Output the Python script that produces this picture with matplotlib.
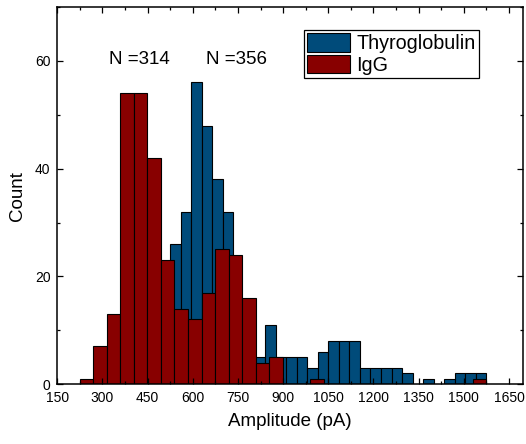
import matplotlib.pyplot as plt
from matplotlib.ticker import MultipleLocator

plt.rcParams['font.family'] = ['Liberation Sans', 'DejaVu Sans']

# Thyroglobulin histogram, bin width 35
thyro_left = [490, 525, 560, 595, 630, 665, 700, 735, 770, 805, 840, 875, 910, 945,
              980, 1015, 1050, 1085, 1120, 1155, 1190, 1225, 1260, 1295, 1330,
              1365, 1400, 1435, 1470, 1505, 1540]
thyro_count = [12, 26, 32, 56, 48, 38, 32, 14, 12, 5, 11, 5, 5, 5,
               3, 6, 8, 8, 8, 3, 3, 3, 3, 2, 0,
               1, 0, 1, 2, 2, 2]
thyro_width = 35

# IgG histogram, bin width 45
igg_left = [224, 269, 314, 359, 404, 449, 494, 539, 584, 629, 674, 719, 764, 809,
            854, 899, 944, 989, 1529]
igg_count = [1, 7, 13, 54, 54, 42, 23, 14, 12, 17, 25, 24, 16, 4,
             5, 0, 0, 1, 1]
igg_width = 45

blue = '#004b7a'
red = '#880000'

fig = plt.figure(figsize=(5.26, 4.44), dpi=100)
ax = fig.add_axes([0.109, 0.135, 0.885, 0.849])

tl = [x for x, c in zip(thyro_left, thyro_count) if c > 0]
tc = [c for c in thyro_count if c > 0]
il = [x for x, c in zip(igg_left, igg_count) if c > 0]
ic = [c for c in igg_count if c > 0]

ax.bar(tl, tc, width=thyro_width, align='edge', color=blue, edgecolor='black',
       linewidth=0.8, label='Thyroglobulin')
ax.bar(il, ic, width=igg_width, align='edge', color=red, edgecolor='black',
       linewidth=0.8, label='IgG')

ax.set_xlim(150, 1696)
ax.set_ylim(0, 70)
ax.xaxis.set_major_locator(MultipleLocator(150))
ax.xaxis.set_minor_locator(MultipleLocator(75))
ax.yaxis.set_major_locator(MultipleLocator(20))
ax.yaxis.set_minor_locator(MultipleLocator(10))
ax.tick_params(which='both', direction='in', top=True, right=True, labelsize=10, pad=5)
ax.tick_params(which='major', length=4.5, width=0.9)
ax.tick_params(which='minor', length=2.3, width=0.9)
for s in ax.spines.values():
    s.set_linewidth(1.1)

ax.set_xlabel('Amplitude (pA)', fontsize=13.5, labelpad=6)
ax.set_ylabel('Count', fontsize=13.5, labelpad=6)

ax.text(423, 60.3, 'N =314', fontsize=13.5, ha='center', va='center')
ax.text(746, 60.3, 'N =356', fontsize=13.5, ha='center', va='center')

leg = ax.legend(loc='upper left', bbox_to_anchor=(0.530, 0.938), borderaxespad=0,
                fontsize=14.2, frameon=True, fancybox=False, framealpha=1,
                edgecolor='black', handlelength=2.2, handleheight=1.05,
                labelspacing=0.08, borderpad=0.15, handletextpad=0.3)
leg.get_frame().set_linewidth(0.9)

fig.savefig('out.png', dpi=100)
